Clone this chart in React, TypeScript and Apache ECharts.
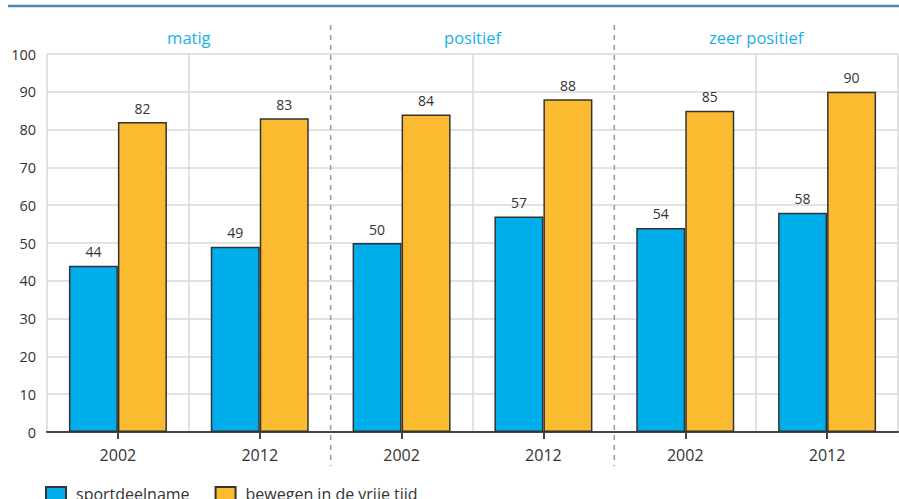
import React, { useEffect, useRef } from "react";
import * as echarts from "echarts";

const groups = ["matig", "positief", "zeer positief"];
const years = ["2002", "2012", "2002", "2012", "2002", "2012"];
const sportdeelname = [44, 49, 50, 57, 54, 58];
const bewegen = [82, 83, 84, 88, 85, 90];
const seriesNames = ["sportdeelname", "bewegen in de vrije tijd"];

const W = 899;
const H = 499;
const G_LEFT = 47;
const G_RIGHT = 1;
const G_TOP = 54;
const G_BOTTOM = 67;
const FONT = "'Open Sans', 'Noto Sans', sans-serif";

export default function App() {
  const ref = useRef<HTMLDivElement>(null);
  useEffect(() => {
    if (!ref.current) return;
    const chart = echarts.init(ref.current, undefined, { renderer: "svg" });
    const plotW = W - G_LEFT - G_RIGHT;
    const sepX = [1, 2].map((i) => G_LEFT + (plotW * i) / groups.length);
    chart.setOption({
      animation: false,
      backgroundColor: "#fff",
      textStyle: { fontFamily: FONT },
      grid: { left: G_LEFT, right: G_RIGHT, top: G_TOP, bottom: G_BOTTOM, containLabel: false },
      legend: {
        data: seriesNames,
        left: 45,
        top: 486,
        padding: 0,
        icon: "rect",
        itemWidth: 20,
        itemHeight: 14,
        itemGap: 25,
        textStyle: { fontSize: 16, color: "#333", fontFamily: FONT, padding: [0, 0, 0, 5] },
      },
      xAxis: [
        {
          type: "category",
          data: years,
          position: "bottom",
          axisLine: { show: true, lineStyle: { color: "#444", width: 2 } },
          axisTick: { show: true, alignWithLabel: true, length: 7, lineStyle: { color: "#444", width: 2 } },
          axisLabel: { fontSize: 16, color: "#333", margin: 15, fontFamily: FONT },
          splitLine: {
            show: true,
            interval: (idx: number) => idx % 2 === 1 || idx === 0 || idx === 6,
            lineStyle: { color: "#d9d9d9", width: 1.5 },
          },
        },
        {
          type: "category",
          data: groups,
          position: "top",
          axisLine: { show: false },
          axisTick: { show: false },
          splitLine: { show: false },
          axisLabel: { fontSize: 16.5, color: "#1aafe8", margin: 8, fontFamily: FONT },
        },
      ],
      yAxis: {
        type: "value",
        min: 0,
        max: 100,
        interval: 10,
        axisLine: { show: false },
        axisTick: { show: false },
        axisLabel: { fontSize: 14.5, color: "#333", margin: 11, fontFamily: FONT },
        splitLine: { show: true, lineStyle: { color: "#d9d9d9", width: 1.5 } },
      },
      series: [
        {
          name: seriesNames[0],
          type: "bar",
          xAxisIndex: 0,
          data: sportdeelname,
          barWidth: 49,
          barGap: "0%",
          itemStyle: { color: "#00adeb", borderColor: "#333", borderWidth: 1.5 },
          label: { show: true, position: "top", distance: 7, fontSize: 14, color: "#333", fontFamily: FONT },
        },
        {
          name: seriesNames[1],
          type: "bar",
          xAxisIndex: 0,
          data: bewegen,
          barWidth: 49,
          barGap: "0%",
          itemStyle: { color: "#fbbb31", borderColor: "#333", borderWidth: 1.5 },
          label: { show: true, position: "top", distance: 7, fontSize: 14, color: "#333", fontFamily: FONT },
        },
      ],
      graphic: {
        elements: [
          {
            type: "line",
            z: 100,
            shape: { x1: 8, y1: 6, x2: W, y2: 6 },
            style: { stroke: "#4a88b2", lineWidth: 2.5 },
          },
          ...sepX.map((x) => ({
            type: "line",
            z: 100,
            shape: { x1: x, y1: 25, x2: x, y2: 466 },
            style: { stroke: "#9a9a9a", lineWidth: 1.5, lineDash: [5, 5] },
          })),
        ],
      },
    });
    return () => chart.dispose();
  }, []);
  return (
    <div
      ref={ref}
      style={{ position: "fixed", left: 0, top: 0, width: W, height: H, background: "#fff" }}
    />
  );
}
